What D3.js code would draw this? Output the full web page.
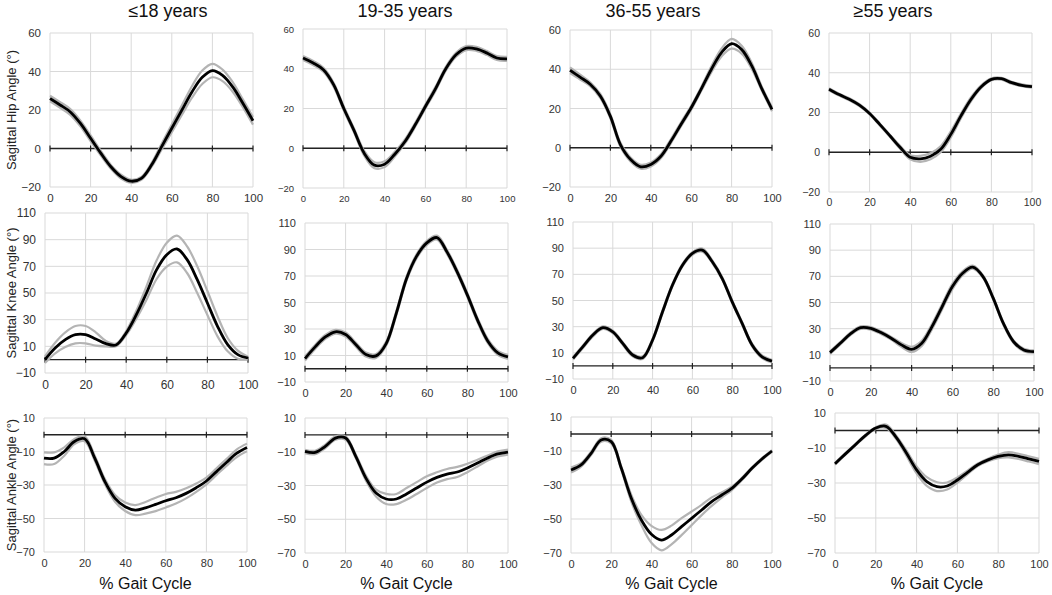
<!DOCTYPE html>
<html>
<head>
<meta charset="utf-8">
<script src="https://cdn.jsdelivr.net/npm/d3@7"></script>
<style>
  body { margin: 0; background: #fff; }
  svg { display: block; font-family: Arial, "Liberation Sans", sans-serif; }
</style>
</head>
<body>
<div id="chart"></div>
<script>
// % gait cycle sample points
const gaitPct = [0, 5, 10, 15, 20, 25, 30, 35, 40, 45, 50, 55, 60, 65, 70, 75, 80, 85, 90, 95, 100];
const xTicks = [0, 20, 40, 60, 80, 100];

const ageGroups = ["≤18 years", "19-35 years", "36-55 years", "≥55 years"];
const jointLabels = ["Sagittal Hip Angle (°)", "Sagittal Knee Angle (°)", "Sagittal Ankle Angle (°)"];

const hipTicks = [-20, 0, 20, 40, 60];
const kneeTicks = [-10, 10, 30, 50, 70, 90, 110];
const ankleTicks = [-70, -50, -30, -10, 10];

// Hip – mean and SD per age group
const hipMean18 = [26, 22.6, 19, 13, 5.3, -2.4, -9.5, -14.6, -17, -15.5, -8.6, 1, 10.5, 20, 29.5, 37, 40.5, 38, 32, 23.5, 14.4];
const hipSd18 = [1.5, 1.5, 1.5, 1.5, 1.5, 1.2, 1, 1, 0.8, 0.8, 1, 1.5, 2, 2.5, 3, 3.5, 3.5, 3, 2.5, 2, 2];
const hipMean35 = [45.4, 42.9, 39.5, 32, 20, 9, -2.5, -8.5, -8, -3, 3.4, 11.8, 21, 30, 40, 47, 50.4, 50, 48, 45.4, 45];
const hipSd35 = [1, 1, 1, 1, 1, 1, 1.2, 1.5, 1.5, 1.2, 1, 1, 1, 1, 1, 1, 1, 1, 1, 1, 1];
const hipMean55 = [39.5, 36, 32.4, 26.4, 16, 1.5, -6, -9.7, -8.5, -4.3, 3.4, 12, 20.4, 30, 40, 48.5, 53, 50, 41.7, 30, 19.6];
const hipSd55 = [1.5, 1.2, 1, 1, 1, 1, 1, 1, 1, 1, 1, 1, 1, 1, 1.5, 2, 2.5, 2, 1.5, 1, 1];
const hipMean56 = [31.7, 29, 26.7, 23.7, 19.5, 14, 8.3, 2.5, -2.5, -3.3, -2, 1.5, 9, 18.3, 26.7, 33, 36.7, 37, 35, 33.7, 33];
const hipSd56 = [0.5, 0.5, 0.5, 0.5, 0.5, 0.5, 0.5, 0.7, 1, 1.5, 1.5, 1.5, 1.5, 1.2, 1, 0.7, 0.5, 0.5, 0.5, 0.5, 0.5];

// Knee
const kneeMean18 = [0, 8.75, 15, 18.75, 18.75, 15.5, 12, 11, 20, 33.75, 50, 67.5, 78.75, 83, 75, 60, 42.5, 25, 11.25, 3.75, 1.25];
const kneeSd18 = [2.5, 4, 5.5, 6.5, 6.5, 5, 2, 1, 1.5, 3, 5, 7, 9, 10, 10, 10, 9, 7.5, 5, 3, 1];
const kneeMean35 = [7.7, 16.5, 24, 27.9, 25.9, 18.3, 10.7, 9.7, 19, 42, 68, 85, 95, 99, 88, 73, 55.6, 36.7, 21, 12, 9];
const kneeSd35 = [1.5, 1.5, 1.5, 1.5, 1.5, 1.5, 1.5, 1.5, 1.5, 1.5, 1.5, 1.5, 1.5, 1.5, 1.5, 1.5, 1.5, 1.5, 1.5, 1.5, 1.5];
const kneeMean55 = [5.8, 14.7, 23.6, 29.2, 26, 17.2, 8.3, 6.3, 19.8, 41.4, 61.8, 77, 86, 88.5, 79.6, 66.8, 49, 32.5, 16, 7, 3.7];
const kneeSd55 = [1, 1, 1, 1, 1, 1, 1, 1, 1, 1, 1, 1, 1, 1.2, 1, 1, 1, 1, 1, 1, 1];
const kneeMean56 = [11.7, 18.8, 26, 30.8, 30.3, 27, 22.7, 17.6, 14.2, 18.8, 31.6, 46.9, 62.2, 72.4, 77, 69.8, 53.3, 34, 20, 13.7, 12.4];
const kneeSd56 = [1, 1, 1, 1, 1, 1, 1, 1.5, 2, 2, 2, 2, 2, 1.5, 1.2, 1, 1, 1, 1, 1, 1];

// Ankle
const ankleMean18 = [-14, -14, -10, -4, -2.4, -14, -28, -38, -43, -45, -43.6, -41.6, -39.4, -37.6, -35, -31.6, -27.6, -22, -16.4, -11, -7.6];
const ankleSd18 = [3.5, 3.5, 2.5, 1.5, 1.5, 1.5, 1.5, 2, 2.5, 3, 3.5, 4, 4, 3.5, 3, 2.5, 2, 2, 2, 2.3, 2.3];
const ankleMean35 = [-9.8, -10.4, -6.8, -1.9, -1.9, -12.7, -25.6, -34.5, -38, -38, -35, -31.5, -28, -25.2, -23.2, -22, -19.6, -16.7, -13.7, -11.3, -10.2];
const ankleSd35 = [1, 1, 1, 1, 1, 1, 1.5, 2, 3, 3, 3.5, 3.5, 3.5, 3, 3, 3, 2.5, 2, 1.5, 1.5, 1.5];
const ankleMean55 = [-21.2, -18.2, -11.4, -3.5, -4.5, -20, -37.8, -50.6, -59, -62.4, -59.4, -54.5, -49.6, -44.7, -39.8, -35.9, -32, -26.5, -20.2, -14.7, -10];
const ankleSd55 = [1.5, 1, 1, 1, 1, 1, 2, 3, 5, 6, 5.5, 5, 4, 3, 2.5, 1.5, 1, 0.7, 0.5, 0.5, 0.5];
const ankleMean56 = [-19, -13.5, -8.1, -2.8, 1.4, 2.4, -3.9, -12.9, -22.5, -29.2, -32.1, -31.7, -28.3, -23.9, -19.6, -16.8, -14.8, -13.9, -14.8, -16.2, -17.7];
const ankleSd56 = [0.5, 0.5, 0.5, 0.5, 0.5, 1, 1, 1.5, 2, 2.5, 2.5, 2, 1.5, 1, 0.7, 0.7, 1, 1.5, 1.5, 1.5, 1.5];

const rows = [
    { ticks: hipTicks, mean: [hipMean18, hipMean35, hipMean55, hipMean56], sd: [hipSd18, hipSd35, hipSd55, hipSd56] },
    { ticks: kneeTicks, mean: [kneeMean18, kneeMean35, kneeMean55, kneeMean56], sd: [kneeSd18, kneeSd35, kneeSd55, kneeSd56] },
    { ticks: ankleTicks, mean: [ankleMean18, ankleMean35, ankleMean55, ankleMean56], sd: [ankleSd18, ankleSd35, ankleSd55, ankleSd56] }
];

// plot boxes [x0, x1, y0, y1, tick font size]
const boxes = [
    [[50, 253, 33, 187, 11.5], [303, 507, 29, 188, 9.5], [570, 772, 30, 187, 11], [829, 1032, 33, 192, 10.5]],
    [[45, 248, 213, 373, 12], [305, 508, 223, 382, 11], [573, 772, 222, 379, 11], [830, 1034, 224, 381, 11]],
    [[44, 247, 418, 552, 11], [305, 508, 418, 553, 11], [571, 772, 417, 553, 11], [835, 1039, 413, 553, 11]]
];
const titleX = [168, 405, 653, 893];

const width = 1052, height = 595;

const svg = d3.select("#chart")
    .append("svg")
    .attr("width", width)
    .attr("height", height);

svg.append("rect").attr("width", width).attr("height", height).attr("fill", "#fff");

// Titles
ageGroups.forEach((g, j) => {
    svg.append("text")
        .attr("x", titleX[j])
        .attr("y", 17)
        .attr("text-anchor", "middle")
        .attr("font-size", "18px")
        .attr("fill", "#111")
        .text(g);
});

rows.forEach((row, i) => {
    const yDomain = d3.extent(row.ticks);

    // Y axis title
    const b0 = boxes[i][0];
    svg.append("text")
        .attr("transform", `translate(13,${(b0[2] + b0[3]) / 2}) rotate(-90)`)
        .attr("text-anchor", "middle")
        .attr("dominant-baseline", "middle")
        .attr("font-size", "13px")
        .attr("fill", "#222")
        .text(jointLabels[i]);

    row.mean.forEach((mean, j) => {
        const [x0, x1, y0, y1, fs] = boxes[i][j];
        const sd = row.sd[j];

        const x = d3.scaleLinear().domain([0, 100]).range([x0, x1]);
        const y = d3.scaleLinear().domain(yDomain).range([y1, y0]);

        const g = svg.append("g");

        // grid
        g.selectAll(".vgrid")
            .data(xTicks)
            .enter().append("line")
            .attr("x1", d => x(d)).attr("x2", d => x(d))
            .attr("y1", y0).attr("y2", y1)
            .attr("stroke", "#d9d9d9").attr("stroke-width", 1);
        g.selectAll(".hgrid")
            .data(row.ticks)
            .enter().append("line")
            .attr("x1", x0).attr("x2", x1)
            .attr("y1", d => y(d)).attr("y2", d => y(d))
            .attr("stroke", "#d9d9d9").attr("stroke-width", 1);

        // axes labels
        g.append("g")
            .attr("transform", `translate(0,${y1})`)
            .call(d3.axisBottom(x).tickValues(xTicks).tickSize(0).tickPadding(7))
            .call(a => a.select(".domain").remove())
            .selectAll("text")
            .attr("font-family", "Arial, 'Liberation Sans', sans-serif")
            .attr("font-size", fs + "px")
            .attr("fill", "#333");

        g.append("g")
            .attr("transform", `translate(${x0},0)`)
            .call(d3.axisLeft(y).tickValues(row.ticks).tickSize(0).tickPadding(9))
            .call(a => a.select(".domain").remove())
            .selectAll("text")
            .attr("font-family", "Arial, 'Liberation Sans', sans-serif")
            .attr("font-size", fs + "px")
            .attr("fill", "#333");

        // zero line with ticks
        g.append("line")
            .attr("x1", x0).attr("x2", x1)
            .attr("y1", y(0)).attr("y2", y(0))
            .attr("stroke", "#222").attr("stroke-width", 1.3);
        g.selectAll(".ztick")
            .data(xTicks)
            .enter().append("line")
            .attr("x1", d => x(d)).attr("x2", d => x(d))
            .attr("y1", y(0) - 3).attr("y2", y(0) + 3)
            .attr("stroke", "#222").attr("stroke-width", 1.2);

        const line = d3.line()
            .x(d => x(d[0]))
            .y(d => y(d[1]))
            .curve(d3.curveCatmullRom);

        const upper = gaitPct.map((p, k) => [p, mean[k] + sd[k]]);
        const lower = gaitPct.map((p, k) => [p, mean[k] - sd[k]]);
        const avg = gaitPct.map((p, k) => [p, mean[k]]);

        [upper, lower].forEach(s => {
            g.append("path")
                .attr("d", line(s))
                .attr("fill", "none")
                .attr("stroke", "#b4b4b4")
                .attr("stroke-width", 2.2);
        });

        g.append("path")
            .attr("d", line(avg))
            .attr("fill", "none")
            .attr("stroke", "#000")
            .attr("stroke-width", 2.8);

        // x axis title on bottom row
        if (i === 2) {
            svg.append("text")
                .attr("x", (x0 + x1) / 2)
                .attr("y", 589)
                .attr("text-anchor", "middle")
                .attr("font-size", "16px")
                .attr("fill", "#111")
                .text("% Gait Cycle");
        }
    });
});
</script>
</body>
</html>
